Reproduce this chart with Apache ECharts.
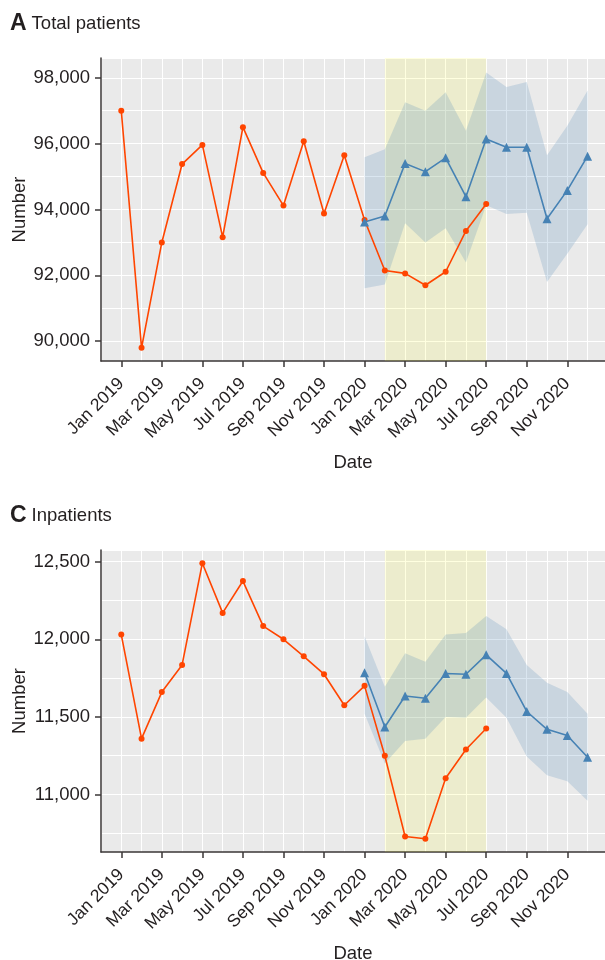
<!DOCTYPE html>
<html>
<head>
<meta charset="utf-8">
<script src="https://cdn.jsdelivr.net/npm/echarts@6/dist/echarts.min.js"></script>
<style>
html,body{margin:0;padding:0;background:#fff;}
#chart{width:605px;height:960px;}
</style>
</head>
<body>
<div id="chart"></div>
<script>
// ---- data ----
const monthLabels = ['Jan 2019','Feb 2019','Mar 2019','Apr 2019','May 2019','Jun 2019','Jul 2019','Aug 2019','Sep 2019','Oct 2019','Nov 2019','Dec 2019',
  'Jan 2020','Feb 2020','Mar 2020','Apr 2020','May 2020','Jun 2020','Jul 2020','Aug 2020','Sep 2020','Oct 2020','Nov 2020','Dec 2020'];
const tickLabels = ['Jan 2019','Mar 2019','May 2019','Jul 2019','Sep 2019','Nov 2019','Jan 2020','Mar 2020','May 2020','Jul 2020','Sep 2020','Nov 2020'];
const observedStart = 'Jan 2019';
const predictedStart = 'Jan 2020';
const highlightFrom = 'Feb 2020';
const highlightTo = 'Jul 2020';

const totalObserved = [97000, 89800, 93000, 95380, 95960, 93160, 96500, 95110, 94120, 96070, 93880, 95650, 93680, 92150, 92060, 91700, 92110, 93350, 94170];
const totalPredicted = [93620, 93800, 95400, 95150, 95570, 94390, 96140, 95890, 95890, 93720, 94580, 95620];
const totalUpper = [95590, 95830, 97260, 97000, 97560, 96390, 98160, 97720, 97870, 95650, 96540, 97610];
const totalLower = [91610, 91720, 93580, 93000, 93430, 92390, 94130, 93860, 93900, 91800, 92660, 93550];
const totalYTicks = [90000, 92000, 94000, 96000, 98000];

const inObserved = [12030, 11360, 11660, 11835, 12490, 12170, 12375, 12085, 12000, 11890, 11775, 11575, 11700, 11250, 10730, 10715, 11105, 11290, 11425];
const inPredicted = [11785, 11435, 11635, 11620, 11780, 11775, 11900, 11780, 11535, 11420, 11380, 11240];
const inUpper = [12020, 11695, 11910, 11855, 12030, 12040, 12150, 12065, 11835, 11720, 11660, 11520];
const inLower = [11520, 11200, 11345, 11360, 11500, 11495, 11625, 11495, 11245, 11125, 11085, 10960];
const inYTicks = [11000, 11500, 12000, 12500];

// ---- helpers ----
const FONT = 'Liberation Sans, Arial, Helvetica, sans-serif';
const TXT = '#231f20';
const AXC = '#3b3737';
const RED = '#ff4500';
const BLUE = '#4682b4';
const idx = m => monthLabels.indexOf(m);
const xTickVals = tickLabels.map(idx);
const X_MIN = -1, X_MAX = 23.86;

function series(start, values) {
  const s = idx(start);
  return values.map((v, i) => [s + i, v]);
}

function xAxes(gridIndex) {
  return [
    {
      type: 'value', gridIndex, min: X_MIN, max: X_MAX, position: 'bottom',
      name: 'Date', nameLocation: 'middle', nameGap: 92, nameMoveOverlap: false,
      nameTextStyle: { fontFamily: FONT, fontSize: 18.5, color: TXT },
      axisLine: { show: true, onZero: false, lineStyle: { color: AXC, width: 1.5 } },
      axisTick: { show: true, length: 6, customValues: xTickVals, lineStyle: { color: AXC, width: 1.5 } },
      axisLabel: { show: true, customValues: xTickVals, rotate: 45, margin: 20,
        fontFamily: FONT, fontSize: 17.5, color: TXT,
        formatter: v => monthLabels[Math.round(v)] },
      splitLine: { show: false }
    },
    {
      type: 'value', gridIndex, min: X_MIN, max: X_MAX, interval: 1, position: 'bottom',
      axisLine: { show: false }, axisTick: { show: false }, axisLabel: { show: false },
      splitLine: { show: true, lineStyle: { color: '#ffffff', width: 1 } }
    }
  ];
}

function yAxes(gridIndex, min, max, ticks, minor) {
  return [
    {
      type: 'value', gridIndex, min, max, position: 'left',
      name: 'Number', nameLocation: 'middle', nameGap: 72, nameMoveOverlap: false,
      nameTextStyle: { fontFamily: FONT, fontSize: 18.5, color: TXT },
      axisLine: { show: true, onZero: false, lineStyle: { color: AXC, width: 1.5 } },
      axisTick: { show: true, length: 6, customValues: ticks, lineStyle: { color: AXC, width: 1.5 } },
      axisLabel: { show: true, customValues: ticks, margin: 11, fontFamily: FONT, fontSize: 18.5, color: TXT,
        formatter: v => v.toLocaleString('en-US') },
      splitLine: { show: false }
    },
    {
      type: 'value', gridIndex, min, max, minInterval: minor, maxInterval: minor, position: 'left',
      axisLine: { show: false }, axisTick: { show: false }, axisLabel: { show: false },
      splitLine: { show: true, lineStyle: { color: '#ffffff', width: 1 } }
    }
  ];
}

function band(xAxisIndex, yAxisIndex, start, lower, upper) {
  const s = idx(start);
  const data = lower.map((v, i) => [s + i, v, upper[i]]);
  return {
    type: 'custom', xAxisIndex, yAxisIndex, data, silent: true, z: 2,
    encode: { x: 0, y: [1, 2] },
    renderItem(params, api) {
      if (params.dataIndex !== 0) return null;
      const top = data.map(d => api.coord([d[0], d[2]]));
      const bot = data.map(d => api.coord([d[0], d[1]])).reverse();
      return { type: 'polygon', shape: { points: top.concat(bot) }, style: { fill: 'rgba(70,130,180,0.2)' } };
    }
  };
}

function observed(xAxisIndex, yAxisIndex, values) {
  return {
    type: 'line', xAxisIndex, yAxisIndex, data: series(observedStart, values), z: 3,
    symbol: 'circle', symbolSize: 6, showSymbol: true, silent: true,
    itemStyle: { color: RED }, lineStyle: { color: RED, width: 1.6 },
    markArea: {
      silent: true, label: { show: false },
      itemStyle: { color: 'rgba(255,255,0,0.12)', borderWidth: 0 },
      data: [[{ xAxis: idx(highlightFrom) }, { xAxis: idx(highlightTo) }]]
    }
  };
}

function predicted(xAxisIndex, yAxisIndex, values) {
  return {
    type: 'line', xAxisIndex, yAxisIndex, data: series(predictedStart, values), z: 4,
    symbol: 'triangle', symbolSize: 9, showSymbol: true, silent: true,
    itemStyle: { color: BLUE }, lineStyle: { color: BLUE, width: 1.6 }
  };
}

function titleRich() {
  return { rich: {
    a: { fontFamily: FONT, fontSize: 23, fontWeight: 'bold', color: TXT },
    b: { fontFamily: FONT, fontSize: 18.5, fontWeight: 'normal', color: TXT }
  } };
}

const chart = echarts.init(document.getElementById('chart'), null, { renderer: 'canvas' });
chart.setOption({
  animation: false,
  backgroundColor: '#ffffff',
  title: [
    { left: 5, top: 7, text: '{a|A} {b|Total patients}', textStyle: titleRich() },
    { left: 5, top: 499, text: '{a|C} {b|Inpatients}', textStyle: titleRich() }
  ],
  grid: [
    { left: 101, right: 0, top: 58, height: 303, show: true, backgroundColor: '#eaeaea', borderWidth: 0, outerBoundsMode: 'none' },
    { left: 101, right: 0, top: 550, height: 302, show: true, backgroundColor: '#eaeaea', borderWidth: 0, outerBoundsMode: 'none' }
  ],
  xAxis: [...xAxes(0), ...xAxes(1)],
  yAxis: [...yAxes(0, 89400, 98600, totalYTicks, 1000), ...yAxes(1, 10630, 12575, inYTicks, 250)],
  series: [
    band(0, 0, predictedStart, totalLower, totalUpper),
    observed(0, 0, totalObserved),
    predicted(0, 0, totalPredicted),
    band(2, 2, predictedStart, inLower, inUpper),
    observed(2, 2, inObserved),
    predicted(2, 2, inPredicted)
  ]
});
</script>
</body>
</html>
